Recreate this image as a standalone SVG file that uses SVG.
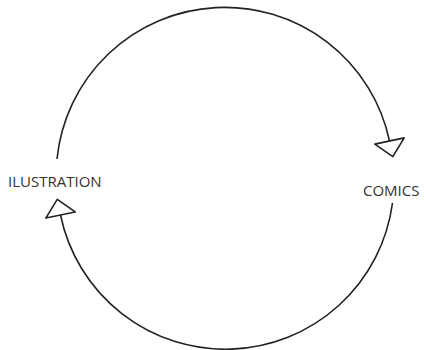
<svg xmlns="http://www.w3.org/2000/svg" width="424" height="350" viewBox="0 0 424 350">
  <style>
    .arc { fill: none; stroke: #222; stroke-width: 1.6; }
    .label { font-family: "Open Sans", "Liberation Sans", sans-serif; font-size: 15px; fill: #333; }
  </style>
  <defs>
    <marker id="tri" markerUnits="userSpaceOnUse" markerWidth="40" markerHeight="40" refX="0" refY="0" orient="auto" overflow="visible">
      <path d="M0,-15 L16,0 L0,15 Z" fill="#fff" stroke="#222" stroke-width="1.6" stroke-linejoin="round"/>
    </marker>
  </defs>
  <rect width="424" height="350" fill="#fff"/>
  <g id="connectors">
    <path class="arc" d="M57,159 A168.5,168.5 0 0 1 389.5,141" marker-end="url(#tri)"/>
    <path class="arc" d="M392.5,203 A168.5,168.5 0 0 1 60.5,215" marker-end="url(#tri)"/>
  </g>
  <g id="ilustration">
    <text class="label" x="8" y="187">ILUSTRATION</text>
  </g>
  <g id="comics">
    <text class="label" x="363" y="196">COMICS</text>
  </g>
</svg>
